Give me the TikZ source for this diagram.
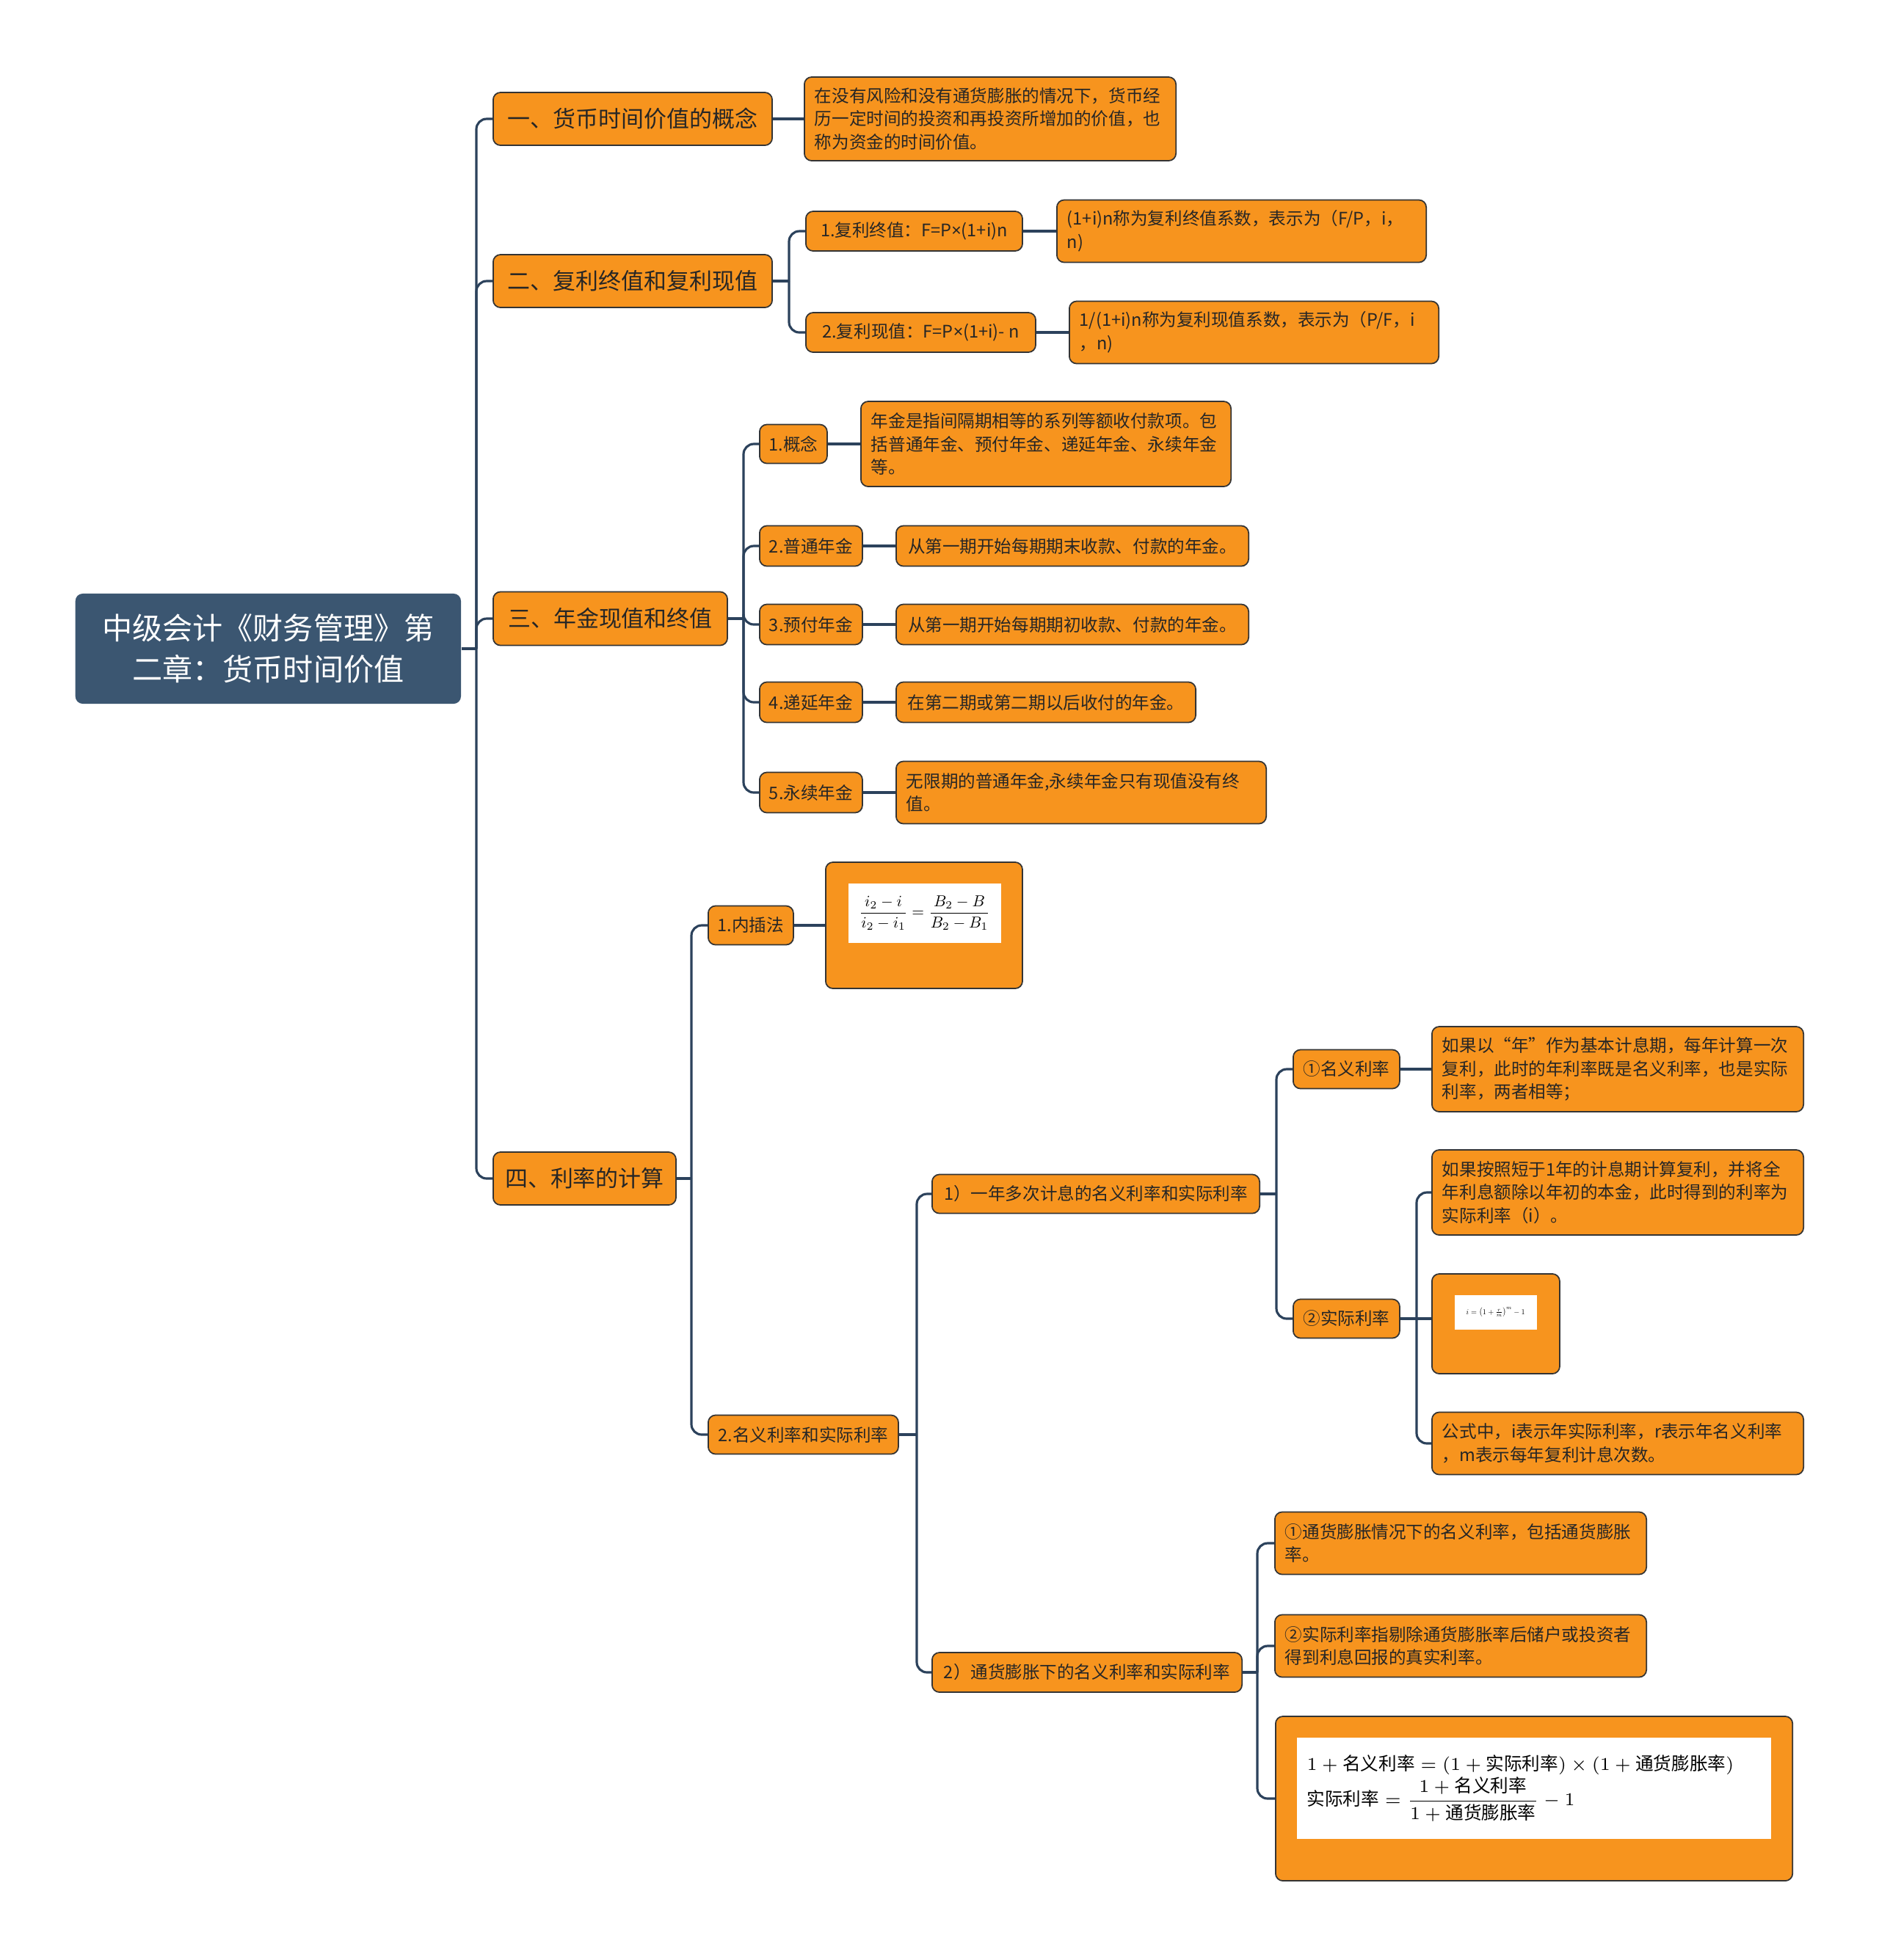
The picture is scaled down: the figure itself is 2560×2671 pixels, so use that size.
\documentclass[tikz,border=0pt]{standalone}
\usepackage{amsmath}
\usepackage[no-math]{fontspec}
\setmainfont{Noto Sans CJK SC}
\newfontfamily\mapsans{Noto Sans}
\definecolor{maporange}{RGB}{247,148,30}
\definecolor{maproot}{RGB}{59,86,113}
\definecolor{mapline}{RGB}{44,66,92}
\definecolor{mapedge}{RGB}{52,52,52}
\tikzset{
  map link/.style={draw=mapline,line width=0.9pt,rounded corners=0.14cm},
  map root/.style={fill=maproot,rounded corners=0.1cm,text=white,align=center,anchor=west,inner sep=0pt,font=\fontsize{11.7}{16}\selectfont},
  map topic/.style={fill=maporange,draw=mapedge,line width=0.5pt,rounded corners=0.1cm,anchor=west,inner sep=0pt,text=black!85,font=\fontsize{8.8}{12}\selectfont},
  map leaf/.style={map topic,font=\fontsize{6.7}{9}\selectfont},
  map note/.style={map leaf,align=left,inner xsep=0.14cm,inner ysep=0pt},
  map inset/.style={fill=white,anchor=north west,inner sep=0pt,text=black}
}
\begin{document}
\begin{tikzpicture}[x=0.01cm,y=-0.01cm]
  \useasboundingbox (0,0) rectangle (2560,2671);

  \node[map root,minimum width=5.25cm,minimum height=1.5cm,text width=5.25cm] (root) at (102,884) {中级会计《财务管理》第\\二章：货币时间价值};

  \node[map topic,minimum width=3.8cm,minimum height=0.72cm] (t1) at (671,162) {一、货币时间价值的概念};
  \node[map topic,minimum width=3.8cm,minimum height=0.72cm] (t2) at (671,383) {二、复利终值和复利现值};
  \node[map topic,minimum width=3.19cm,minimum height=0.73cm] (t3) at (671,843) {三、年金现值和终值};
  \node[map topic,minimum width=2.49cm,minimum height=0.72cm] (t4) at (671,1606) {四、利率的计算};

  \node[map note,text width=4.78cm,minimum height=1.14cm] (d1) at (1095,162) {在没有风险和没有通货膨胀的情况下，货币经\\历一定时间的投资和再投资所增加的价值，也\\称为资金的时间价值。};

  \node[map leaf,minimum width=2.95cm,minimum height=0.54cm] (a1) at (1097,315) {1.复利终值：F=P{\mapsans ×}(1+i)n};
  \node[map note,text width=4.75cm,minimum height=0.85cm] (a1d) at (1439,315) {(1+i)n称为复利终值系数，表示为（F/P，i，\\n)};
  \node[map leaf,minimum width=3.13cm,minimum height=0.54cm] (a2) at (1097,453) {2.复利现值：F=P{\mapsans ×}(1+i)- n};
  \node[map note,text width=4.75cm,minimum height=0.85cm] (a2d) at (1456,453) {1/(1+i)n称为复利现值系数，表示为（P/F，i\\，n)};

  \node[map leaf,minimum width=0.92cm,minimum height=0.53cm] (b1) at (1034,605) {1.概念};
  \node[map note,text width=4.76cm,minimum height=1.16cm] (b1d) at (1172,605) {年金是指间隔期相等的系列等额收付款项。包\\括普通年金、预付年金、递延年金、永续年金\\等。};
  \node[map leaf,minimum width=1.4cm,minimum height=0.55cm] (b2) at (1034,744) {2.普通年金};
  \node[map leaf,minimum width=4.8cm,minimum height=0.55cm] (b2d) at (1220,744) {从第一期开始每期期末收款、付款的年金。};
  \node[map leaf,minimum width=1.4cm,minimum height=0.55cm] (b3) at (1034,851) {3.预付年金};
  \node[map leaf,minimum width=4.8cm,minimum height=0.55cm] (b3d) at (1220,851) {从第一期开始每期期初收款、付款的年金。};
  \node[map leaf,minimum width=1.4cm,minimum height=0.55cm] (b4) at (1034,957) {4.递延年金};
  \node[map leaf,minimum width=4.08cm,minimum height=0.55cm] (b4d) at (1220,957) {在第二期或第二期以后收付的年金。};
  \node[map leaf,minimum width=1.4cm,minimum height=0.55cm] (b5) at (1034,1080) {5.永续年金};
  \node[map note,text width=4.76cm,minimum height=0.85cm] (b5d) at (1220,1080) {无限期的普通年金,永续年金只有现值没有终\\值。};

  \node[map leaf,minimum width=1.16cm,minimum height=0.53cm] (c1) at (964,1261) {1.内插法};
  \node[map topic,minimum width=2.68cm,minimum height=1.72cm] (c1f) at (1124,1261) {};
  \node[map inset,minimum width=2.08cm,minimum height=0.81cm] (c1fimg) at ([xshift=0.31cm,yshift=-0.29cm]c1f.north west) {\resizebox{1.78cm}{!}{$\displaystyle\frac{\mathstrut i_2-i}{\mathstrut i_2-i_1}=\frac{\mathstrut B_2-B}{\mathstrut B_2-B_1}$}};
  \node[map leaf,minimum width=2.59cm,minimum height=0.53cm] (c2) at (964,1955) {2.名义利率和实际利率};

  \node[map leaf,minimum width=4.46cm,minimum height=0.53cm] (e1) at (1269,1627) {1）一年多次计息的名义利率和实际利率};
  \node[map leaf,minimum width=4.22cm,minimum height=0.54cm] (e2) at (1269,2279) {2）通货膨胀下的名义利率和实际利率};

  \node[map leaf,minimum width=1.45cm,minimum height=0.53cm] (f1) at (1761,1457) {①名义利率};
  \node[map note,text width=4.78cm,minimum height=1.16cm] (f1d) at (1950,1457) {如果以“年”作为基本计息期，每年计算一次\\复利，此时的年利率既是名义利率，也是实际\\利率，两者相等；};
  \node[map leaf,minimum width=1.45cm,minimum height=0.53cm] (f2) at (1761,1797) {②实际利率};

  \node[map note,text width=4.78cm,minimum height=1.16cm] (g1) at (1950,1625) {如果按照短于1年的计息期计算复利，并将全\\年利息额除以年初的本金，此时得到的利率为\\实际利率（i）。};
  \node[map topic,minimum width=1.74cm,minimum height=1.36cm] (g2) at (1950,1804) {};
  \node[map inset,minimum width=1.12cm,minimum height=0.47cm] (g2img) at ([xshift=0.31cm,yshift=-0.29cm]g2.north west) {\resizebox{0.8cm}{!}{$i=\left(1+\frac{r}{m}\right)^{m}-1$}};
  \node[map note,text width=4.78cm,minimum height=0.85cm] (g3) at (1950,1967) {公式中，i表示年实际利率，r表示年名义利率\\，m表示每年复利计息次数。};

  \node[map note,text width=4.78cm,minimum height=0.85cm] (h1) at (1736,2103) {①通货膨胀情况下的名义利率，包括通货膨胀\\率。};
  \node[map note,text width=4.78cm,minimum height=0.85cm] (h2) at (1736,2243) {②实际利率指剔除通货膨胀率后储户或投资者\\得到利息回报的真实利率。};
  \node[map topic,minimum width=7.04cm,minimum height=2.24cm] (h3) at (1737,2451) {};
  \node[map inset,minimum width=6.46cm,minimum height=1.38cm,text width=6.18cm,inner xsep=0.14cm,align=left,font=\fontsize{7}{10.5}\selectfont] (h3img) at ([xshift=0.29cm,yshift=-0.29cm]h3.north west) {$1+\text{名义利率}=(1+\text{实际利率})\times(1+\text{通货膨胀率})$\\$\text{实际利率}=\dfrac{1+\text{名义利率}}{1+\text{通货膨胀率}}-1$};

  \coordinate (s0) at (649,884);
  \draw[map link] (root.east) -- (s0);
  \draw[map link] (s0) |- (t1.west);
  \draw[map link] (s0) |- (t2.west);
  \draw[map link] (s0) |- (t3.west);
  \draw[map link] (s0) |- (t4.west);
  \draw[map link] (t1.east) -- (d1.west);

  \coordinate (s2) at (1075,383);
  \draw[map link] (t2.east) -- (s2);
  \draw[map link] (s2) |- (a1.west);
  \draw[map link] (s2) |- (a2.west);
  \draw[map link] (a1.east) -- (a1d.west);
  \draw[map link] (a2.east) -- (a2d.west);

  \coordinate (s3) at (1013,843);
  \draw[map link] (t3.east) -- (s3);
  \draw[map link] (s3) |- (b1.west);
  \draw[map link] (s3) |- (b2.west);
  \draw[map link] (s3) |- (b3.west);
  \draw[map link] (s3) |- (b4.west);
  \draw[map link] (s3) |- (b5.west);
  \draw[map link] (b1.east) -- (b1d.west);
  \draw[map link] (b2.east) -- (b2d.west);
  \draw[map link] (b3.east) -- (b3d.west);
  \draw[map link] (b4.east) -- (b4d.west);
  \draw[map link] (b5.east) -- (b5d.west);

  \coordinate (s4) at (942,1606);
  \draw[map link] (t4.east) -- (s4);
  \draw[map link] (s4) |- (c1.west);
  \draw[map link] (s4) |- (c2.west);
  \draw[map link] (c1.east) -- (c1f.west);

  \coordinate (s5) at (1249,1955);
  \draw[map link] (c2.east) -- (s5);
  \draw[map link] (s5) |- (e1.west);
  \draw[map link] (s5) |- (e2.west);

  \coordinate (s6) at (1739,1627);
  \draw[map link] (e1.east) -- (s6);
  \draw[map link] (s6) |- (f1.west);
  \draw[map link] (s6) |- (f2.west);
  \draw[map link] (f1.east) -- (f1d.west);

  \coordinate (s7) at (1930,1797);
  \draw[map link] (f2.east) -- (s7);
  \draw[map link] (s7) |- (g1.west);
  \draw[map link] (s7) -- (s7 -| g2.west);
  \draw[map link] (s7) |- (g3.west);

  \coordinate (s8) at (1713,2279);
  \draw[map link] (e2.east) -- (s8);
  \draw[map link] (s8) |- (h1.west);
  \draw[map link] (s8) |- (h2.west);
  \draw[map link] (s8) |- (h3.west);
\end{tikzpicture}
\end{document}
